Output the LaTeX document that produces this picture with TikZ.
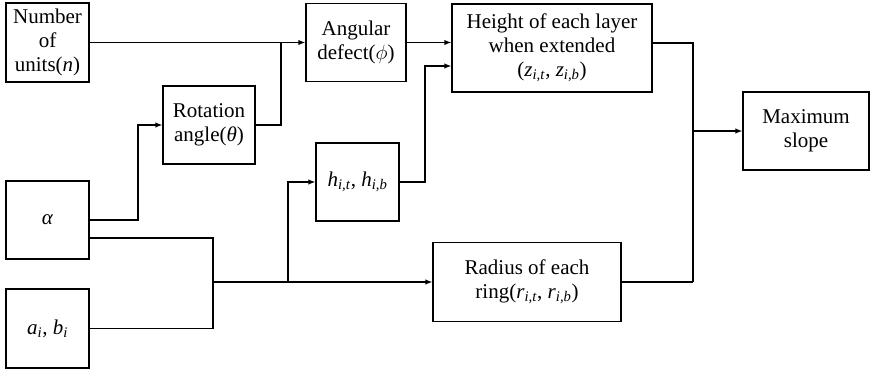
\documentclass[tikz,border=0pt]{standalone}
\usepackage{fontspec}
\setmainfont{Liberation Serif}
\usetikzlibrary{arrows.meta}
\newcommand{\vi}[1]{\textit{#1}}
\newcommand{\sbs}[1]{\textsubscript{\textit{#1}}}
\begin{document}
\begin{tikzpicture}[x=1pt,y=-1pt,
  box/.style={draw,line width=1.3pt,align=center,inner sep=0pt,font=\fontsize{21}{24}\selectfont},
  ln/.style={line width=1.3pt},
  arr/.style={line width=1.3pt,-{Latex[length=7pt,width=5.5pt]}}]
\useasboundingbox (0,0) rectangle (874,371);
\node[box,minimum width=83pt,minimum height=79pt] (num) at (47.5,42.5) {Number\\of\\units(\vi{n})};
\node[box,minimum width=92pt,minimum height=78pt] (rot) at (209,125) {Rotation\\angle(\vi{θ})};
\node[box,minimum width=100pt,minimum height=78pt] (ang) at (356,42.5) {Angular\\defect($\phi$)};
\node[box,minimum width=200pt,minimum height=88pt] (hei) at (552,48) {Height of each layer\\when extended\\(\vi{z}\sbs{i,t}, \vi{z}\sbs{i,b})};
\node[box,minimum width=126pt,minimum height=78pt] (max) at (806,131) {Maximum\\slope};
\node[box,minimum width=83pt,minimum height=78pt] (hh) at (357.5,182) {\vi{h}\sbs{i,t}, \vi{h}\sbs{i,b}};
\node[box,minimum width=83pt,minimum height=78pt] (alp) at (47.5,220) {\vi{α}};
\node[box,minimum width=83pt,minimum height=79pt] (ab) at (47.5,328.5) {\vi{a}\sbs{i}, \vi{b}\sbs{i}};
\node[box,minimum width=188pt,minimum height=79pt] (rad) at (527,282) {Radius of each\\ring(\vi{r}\sbs{i,t}, \vi{r}\sbs{i,b})};
\coordinate (j1) at (281,42.5);
\coordinate (a1) at (138,220);
\coordinate (j2) at (213,328.5);
\coordinate (j3) at (213,282);
\coordinate (j4) at (288,282);
\coordinate (j5) at (425,66);
\coordinate (j6) at (693,282);
\coordinate (j7) at (693,131);
\draw[arr] (num) -- (ang);
\draw[ln] (rot.east) -| (j1);
\draw[arr] (alp.east) -- (a1) |- (rot.west);
\draw[ln] ([yshift=-18pt]alp.east) -| (j2);
\draw[ln] (ab.east) -- (j2);
\draw[arr] (j3) -- (rad.west);
\draw[arr] (j4) |- (hh.west);
\draw[arr] (hh.east) -| (j5) -- (j5 -| hei.west);
\draw[arr] (ang.east) -- (ang.east -| hei.west);
\draw[ln] ([yshift=5pt]hei.east) -| (j6);
\draw[ln] (rad.east) -- (j6);
\draw[arr] (j7) -- (max.west);
\end{tikzpicture}
\end{document}
